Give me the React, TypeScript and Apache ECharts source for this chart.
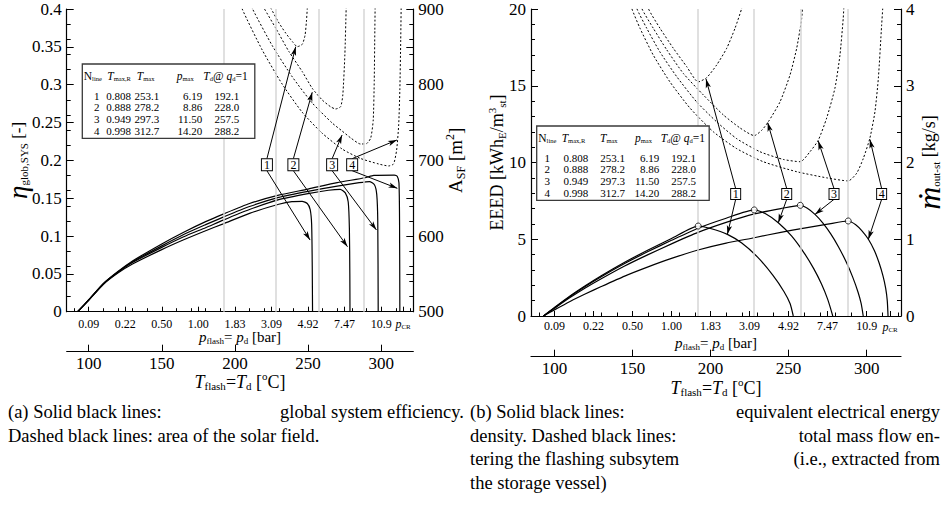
import React, { useEffect, useRef } from "react";
import * as echarts from "echarts";

const FONT = "Liberation Serif";
const BLK = "#000";

// temperature range of both plots (°C)
const T_MIN = 85;
const T_MAX = 322;

// p_flash tick positions (on the temperature scale) and labels
const pTickT = [100, 125, 150, 175, 200, 225, 250, 275, 300, 315];
const pTickLabels = ["0.09", "0.22", "0.50", "1.00", "1.83", "3.09", "4.92", "7.47", "10.9", "pCR"];
const tMajorTicks = [100, 150, 200, 250, 300];
const tMinorTicks = [90, 110, 120, 130, 140, 160, 170, 180, 190, 210, 220, 230, 240, 260, 270, 280, 290, 310, 320];

// table
const lineIds = ["1", "2", "3", "4"];
const tableTmaxR = ["0.808", "0.888", "0.949", "0.998"];
const tableTmax = ["253.1", "278.2", "297.3", "312.7"];
const tablePmax = ["6.19", "8.86", "11.50", "14.20"];
const tableTd = ["192.1", "228.0", "257.5", "288.2"];
const TdValues = [192.1, 228.0, 257.5, 288.2];

// (a) global system efficiency (solid)
const etaT1 = [92.5, 100, 110, 120, 130, 150, 165, 180, 192, 210, 230, 239, 246, 249.5, 251.5, 252.5, 252.9, 253.1];
const eta1 = [0, 0.015, 0.036, 0.051, 0.063, 0.082, 0.095, 0.107, 0.116, 0.13, 0.142, 0.1455, 0.1458, 0.143, 0.135, 0.115, 0.06, 0];
const etaT2 = [92.5, 100, 110, 120, 130, 150, 165, 180, 192, 210, 230, 250, 264, 272, 275.5, 277.5, 278.3, 278.6, 278.7];
const eta2 = [0, 0.0155, 0.0365, 0.052, 0.065, 0.085, 0.099, 0.111, 0.121, 0.135, 0.148, 0.156, 0.1605, 0.1617, 0.157, 0.145, 0.11, 0.05, 0];
const etaT3 = [92.5, 100, 110, 120, 130, 150, 165, 180, 192, 210, 230, 250, 270, 285, 292, 295.5, 297, 297.7, 298];
const eta3 = [0, 0.0155, 0.037, 0.0525, 0.066, 0.087, 0.102, 0.115, 0.125, 0.139, 0.151, 0.159, 0.166, 0.1705, 0.172, 0.1675, 0.155, 0.12, 0];
const etaT4 = [92.5, 100, 110, 120, 130, 150, 165, 180, 192, 210, 230, 250, 270, 289, 295, 309, 311, 312.2, 312.6, 312.8];
const eta4 = [0, 0.0155, 0.037, 0.053, 0.067, 0.0895, 0.105, 0.119, 0.129, 0.143, 0.154, 0.162, 0.1705, 0.177, 0.1802, 0.1806, 0.179, 0.17, 0.12, 0];

// (a) solar field area (dashed, m2)
const aT1 = [219, 224.6, 229.7, 234.8, 239.3, 242.7, 246.1, 248, 248.9, 249.5, 249.9];
const aSF1 = [920, 901, 883, 868, 857, 850.2, 853.4, 865.6, 883.2, 901, 925];
const aT2 = [215, 220, 228, 237, 246.1, 252.9, 259.7, 265.4, 268.8, 272.3, 273.8, 275.2, 276.1, 276.5];
const aSF2 = [918, 900.9, 874.5, 843.6, 817.2, 795.2, 779.8, 770.9, 767.9, 770.9, 786.4, 839.2, 901, 930];
const aT3 = [208.5, 212.1, 225.7, 239.3, 252.9, 266.5, 273.3, 279.3, 285.9, 290.2, 292.9, 294.6, 295.3, 295.7, 296];
const aSF3 = [918.5, 900, 851.1, 810.2, 775.8, 749.4, 738.8, 729.5, 721.6, 722.3, 729.5, 753.3, 806.2, 872.3, 918.5];
const aT4 = [203, 205, 218.7, 232.3, 245.9, 259.5, 273.3, 285.9, 298.3, 305.1, 308.5, 310.6, 312, 312.8, 313.4, 313.8];
const aSF4 = [915.8, 900, 845.8, 800.9, 763.9, 736.2, 715, 702.5, 695.2, 692.6, 695.2, 713.7, 746.7, 793, 859.1, 918.5];

// (b) EEED (solid, kWh_E/m3_st)
const eT1 = [93, 100, 110, 120, 130, 145, 160, 175, 192.1, 200, 210.8, 220, 230, 240, 247, 251, 253];
const eed1 = [0, 0.55, 1.3, 1.98, 2.62, 3.5, 4.3, 5.05, 5.86, 5.7, 5.32, 4.75, 3.85, 2.65, 1.6, 0.8, 0];
const eT2 = [93, 100, 110, 120, 130, 145, 160, 175, 192, 210, 228, 235, 243.4, 252, 260, 266, 271, 275, 278.3];
const eed2 = [0, 0.53, 1.27, 1.94, 2.56, 3.42, 4.2, 4.93, 5.72, 6.37, 6.91, 6.68, 6.08, 5.2, 4.1, 3.1, 2.1, 1.1, 0];
const eT3 = [93, 100, 110, 120, 130, 145, 160, 175, 192, 210, 228, 245, 257.5, 262, 266.9, 272, 277, 282, 287, 291, 294.5, 296.5, 297.8];
const eed3 = [0, 0.5, 1.2, 1.84, 2.43, 3.26, 4.0, 4.7, 5.45, 6.1, 6.65, 7.0, 7.21, 7.02, 6.62, 6.05, 5.35, 4.5, 3.5, 2.55, 1.55, 0.8, 0];
const eT4 = [93, 100, 110, 120, 130, 145, 160, 175, 192, 210, 228, 245, 260, 275, 288.2, 293, 297, 301.1, 305, 308, 310.5, 312.2, 313.2, 313.7];
const eed4 = [0, 0.4, 0.95, 1.45, 1.92, 2.6, 3.2, 3.75, 4.3, 4.75, 5.1, 5.45, 5.73, 5.98, 6.19, 5.95, 5.55, 5.0, 4.25, 3.45, 2.6, 1.8, 1.0, 0];
const peakE = [5.86, 6.91, 7.21, 6.19];

// (b) mass flow out of storage (dashed, kg/s)
const mT1 = [157, 160.1, 167.6, 176.1, 184.7, 192.1, 197.5, 203.9, 210.4, 215.7, 220, 221.5];
const m1 = [4.3, 4.01, 3.75, 3.49, 3.25, 3.05, 3.105, 3.27, 3.49, 3.75, 4.01, 4.15];
const mT2 = [152, 155.9, 163.3, 171.9, 182.6, 195.4, 208.2, 218.9, 228, 232.8, 237, 244.5, 250.9, 255.2, 258.4, 259.2];
const m2 = [4.3, 4.01, 3.75, 3.47, 3.16, 2.88, 2.62, 2.45, 2.35, 2.42, 2.53, 2.79, 3.14, 3.49, 3.88, 4.15];
const mT3 = [148.5, 152.7, 159.1, 167.6, 178.3, 191.1, 203.9, 216.8, 231.7, 246.6, 257.5, 263.7, 269, 274.4, 279.7, 282.9, 285, 285.6];
const m3 = [4.3, 4.01, 3.75, 3.44, 3.12, 2.79, 2.53, 2.31, 2.14, 2.04, 2.01, 2.14, 2.29, 2.58, 2.97, 3.4, 3.88, 4.1];
const mT4 = [145.5, 149.5, 154.8, 163.3, 174, 186.8, 201.8, 216.8, 233.8, 255.2, 274.4, 288.2, 293.6, 297.8, 302.1, 305.3, 307.5, 309.6, 310.3, 310.6];
const m4 = [4.3, 4.01, 3.75, 3.4, 3.05, 2.71, 2.4, 2.18, 2.01, 1.88, 1.8, 1.76, 1.86, 2.05, 2.32, 2.66, 3.1, 3.79, 4.01, 4.15];

// annotation anchors (data coordinates)
const boxTLeft = [221.9, 240, 266.5, 280.2];
const boxEtaTop = 0.2022;
const boxEtaMid = 0.1943;
const boxEtaBottom = 0.1863;
const arrowUpLeft = [[241.6, 0.3502], [252.9, 0.29], [273.3, 0.2335], [310.8, 0.2269]];
const arrowDownLeft = [[251.4, 0.0947], [277, 0.0859], [296.8, 0.108], [311.1, 0.163]];
const boxTRight = [216.1, 248.8, 279.1, 309.6];
const boxETop = 8.3;
const boxEMid = 7.95;
const boxEBottom = 7.6;
const arrowUpRight = [[197.1, 15.44], [236.6, 12.6], [269, 11.4], [302.1, 11.5]];
const arrowDownRight = [[210.8, 5.32], [243.4, 6.08], [266.9, 6.62], [301.1, 5.0]];

// captions
const captionA = [["(a) Solid black lines:", "global system efficiency."], ["Dashed black lines: area of the solar field."]];
const captionB = [
  ["(b) Solid black lines:", "equivalent electrical energy"],
  ["density. Dashed black lines:", "total mass flow en-"],
  ["tering the flashing subsytem", "(i.e., extracted from"],
  ["the storage vessel)"],
];

const richBase = (size: number) => ({
  t: { fontSize: size, fontFamily: FONT, color: BLK },
  i: { fontSize: size, fontFamily: FONT, fontStyle: "italic", color: BLK },
  s: { fontSize: Math.round(size * 0.62), fontFamily: FONT, color: BLK, padding: [Math.round(size * 0.5), 0, 0, 0] },
  u: { fontSize: Math.round(size * 0.62), fontFamily: FONT, color: BLK, padding: [0, 0, Math.round(size * 0.6), 0] },
});

const pFormatter = (v: number) => {
  const i = pTickT.findIndex((t) => Math.abs(t - v) < 1e-6);
  if (i < 0) return "";
  const l = pTickLabels[i];
  return l === "pCR" ? "{i|p}{s|CR}" : "{t|" + l + "}";
};

const axisLine = { show: true, onZero: false, lineStyle: { color: BLK, width: 1.2 } };

const pAxis = (gridIndex: number, nameGap: number, margin: number) => ({
  type: "value", gridIndex, min: T_MIN, max: T_MAX, position: "bottom",
  axisLine,
  axisTick: { show: true, inside: true, length: 5, customValues: pTickT, lineStyle: { color: BLK } },
  axisLabel: { show: true, customValues: pTickT, formatter: pFormatter, margin, rich: richBase(12) },
  splitLine: { show: false },
  name: "{i|p}{s|flash}{t|= }{i|p}{s|d}{t| [bar]}", nameLocation: "middle", nameGap, nameMoveOverlap: false,
  nameTextStyle: { rich: richBase(15) },
});
const tAxis = (gridIndex: number, offset: number, nameGap: number) => ({
  type: "value", gridIndex, min: T_MIN, max: T_MAX, position: "bottom", offset,
  axisLine,
  axisTick: { show: true, inside: true, length: 7, customValues: tMajorTicks, lineStyle: { color: BLK } },
  axisLabel: { show: true, customValues: tMajorTicks, fontSize: 17, fontFamily: FONT, color: BLK, margin: 3 },
  splitLine: { show: false },
  name: "{i|T}{s|flash}{t|=}{i|T}{s|d}{t| [}{u|o}{t|C]}", nameLocation: "middle", nameGap, nameMoveOverlap: false,
  nameTextStyle: { rich: richBase(18) },
});
const tMinorAxis = (gridIndex: number, offset: number) => ({
  type: "value", gridIndex, min: T_MIN, max: T_MAX, position: "bottom", offset,
  axisLine: { show: false },
  axisTick: { show: true, inside: true, length: 3.5, customValues: tMinorTicks, lineStyle: { color: BLK } },
  axisLabel: { show: false }, splitLine: { show: false },
});

const yLabel = { fontSize: 17, fontFamily: FONT, color: BLK, margin: 5 };

const pairs = (xs: number[], ys: number[]) => xs.map((x, i) => [x, ys[i]]);
const curve = (xs: number[], ys: number[], xi: number, yi: number, dashed: boolean) => ({
  type: "line", xAxisIndex: xi, yAxisIndex: yi, data: pairs(xs, ys),
  showSymbol: false, symbol: "none", smooth: 0.2, silent: true, z: 3,
  lineStyle: { color: BLK, width: dashed ? 1 : 1.2, type: dashed ? [2, 2] : "solid" },
});

const markerSeries = (xi: number, yi: number, boxT: number[], mid: number, top: number, bottom: number, up: number[][], down: number[][], boxW: number, boxH: number) => ({
  type: "line", xAxisIndex: xi, yAxisIndex: yi, data: [], silent: true, z: 5,
  markLine: {
    silent: true, symbol: ["none", "arrow"], symbolSize: 8, label: { show: false },
    lineStyle: { color: BLK, width: 1, type: "solid" },
    data: [
      ...boxT.map((t, i) => [{ coord: [t, top] }, { coord: up[i], symbolSize: [4, 9] }]),
      ...boxT.map((t, i) => [{ coord: [t, bottom] }, { coord: down[i], symbolSize: [4, 9] }]),
    ],
  },
  markPoint: {
    silent: true, symbol: "rect", symbolSize: [boxW, boxH],
    itemStyle: { color: "#fff", borderColor: BLK, borderWidth: 1 },
    label: { show: true, position: "inside", color: BLK, fontSize: 12, fontFamily: FONT, formatter: "{c}" },
    data: boxT.map((t, i) => ({ coord: [t, mid], value: lineIds[i] })),
  },
});

const gridLines = (xi: number, yi: number) => ({
  type: "line", xAxisIndex: xi, yAxisIndex: yi, data: [], silent: true, z: 1,
  markLine: {
    silent: true, symbol: ["none", "none"], label: { show: false },
    lineStyle: { color: "#d6d6d6", width: 1.5, type: "solid" },
    data: TdValues.map((v) => ({ xAxis: v })),
  },
});

const tableGraphic = (x0: number, y0: number, headX: number[], cellR: number[]) => {
  const els: any[] = [];
  els.push({ type: "rect", z: 10, shape: { x: x0, y: y0, width: 172.5, height: 74.3 }, style: { fill: "#fff", stroke: "#3a3a3a", lineWidth: 1.3 } });
  const tr = {
    t: { fontSize: 11.5, fontFamily: FONT, fill: BLK },
    i: { fontSize: 11.5, fontFamily: FONT, fontStyle: "italic", fill: BLK },
    s: { fontSize: 6.5, fontFamily: FONT, fill: BLK, padding: [5, 0, 0, 0] },
  };
  const heads = ["{t|N}{s|line}", "{i|T}{s|max,R}", "{i|T}{s|max}", "{i|p}{s|max}", "{i|T}{s|d}{t|@ }{i|q}{s|d}{t|=1}"];
  heads.forEach((h, k) => {
    els.push({ type: "text", z: 11, x: x0 + headX[k], y: y0 + 12, style: { text: h, rich: tr, fontSize: 11.5, fontFamily: FONT, fill: BLK, align: "left", verticalAlign: "middle" } });
  });
  lineIds.forEach((id, r) => {
    const cells = [id, tableTmaxR[r], tableTmax[r], tablePmax[r], tableTd[r]];
    cells.forEach((c, k) => {
      els.push({ type: "text", z: 11, x: x0 + cellR[k], y: y0 + 31.7 + r * 11.7, style: { text: c, fontSize: 11, fontFamily: FONT, fill: BLK, align: "right", verticalAlign: "middle" } });
    });
  });
  return els;
};

const captionGraphic = (lines: string[][], x0: number, x1: number, y0: number) => {
  const els: any[] = [];
  lines.forEach((parts, r) => {
    const y = y0 + r * 23.7;
    els.push({ type: "text", z: 11, x: x0, y, style: { text: parts[0], fontSize: 18.5, fontFamily: FONT, fill: BLK, align: "left", verticalAlign: "middle" } });
    if (parts[1]) {
      els.push({ type: "text", z: 11, x: x1, y, style: { text: parts[1], fontSize: 18.5, fontFamily: FONT, fill: BLK, align: "right", verticalAlign: "middle" } });
    }
  });
  return els;
};

function buildOption() {
  return {
    animation: false,
    backgroundColor: "#fff",
    textStyle: { fontFamily: FONT, color: BLK },
    grid: [
      { left: 66.7, top: 9, width: 346.6, height: 302.7, containLabel: false, outerBoundsMode: "none" },
      { left: 531, top: 9, width: 370, height: 307, containLabel: false, outerBoundsMode: "none" },
    ],
    xAxis: [
      pAxis(0, 17, 6),
      tAxis(0, 40, 19),
      tMinorAxis(0, 40),
      pAxis(1, 18, 4),
      tAxis(1, 40.7, 20),
      tMinorAxis(1, 40.7),
    ],
    yAxis: [
      {
        type: "value", gridIndex: 0, position: "left", min: 0, max: 0.4, interval: 0.05,
        axisLine, axisTick: { show: true, inside: true, length: 7, lineStyle: { color: BLK } },
        axisLabel: yLabel, splitLine: { show: false },
        name: "{g|η}{s|glob,SYS}{t| [-]}", nameLocation: "middle", nameGap: 35, nameMoveOverlap: false,
        nameTextStyle: { rich: { ...richBase(17), g: { fontSize: 27, fontFamily: FONT, fontStyle: "italic", color: BLK }, s: { fontSize: 11, fontFamily: FONT, color: BLK, padding: [12, 0, 0, 0] } } },
      },
      {
        type: "value", gridIndex: 0, position: "right", min: 500, max: 900, interval: 50,
        axisLine, axisTick: { show: true, inside: true, length: 7, lineStyle: { color: BLK } },
        axisLabel: { ...yLabel, formatter: (v: number) => (v % 100 === 0 ? String(v) : "") }, splitLine: { show: false },
        name: "{t|A}{s|SF}{t| [m}{u|2}{t|]}", nameLocation: "middle", nameGap: 31, nameMoveOverlap: false,
        nameTextStyle: { rich: richBase(19) },
      },
      {
        type: "value", gridIndex: 0, position: "left", min: 0, max: 0.4, interval: 0.02,
        axisLine: { show: false }, axisTick: { show: true, inside: true, length: 4, lineStyle: { color: BLK } },
        axisLabel: { show: false }, splitLine: { show: false },
      },
      {
        type: "value", gridIndex: 0, position: "right", min: 500, max: 900, interval: 20,
        axisLine: { show: false }, axisTick: { show: true, inside: true, length: 4, lineStyle: { color: BLK } },
        axisLabel: { show: false }, splitLine: { show: false },
      },
      {
        type: "value", gridIndex: 1, position: "left", min: 0, max: 20, interval: 5,
        axisLine, axisTick: { show: true, inside: true, length: 7, lineStyle: { color: BLK } },
        minorTick: { show: true, splitNumber: 5, length: 4, lineStyle: { color: BLK } },
        axisLabel: yLabel, splitLine: { show: false },
        name: "{t|EEED [kWh}{s|E}{t|/m}{u|3}{s|st}{t|]}", nameLocation: "middle", nameGap: 23, nameMoveOverlap: false,
        nameTextStyle: { rich: richBase(18) },
      },
      {
        type: "value", gridIndex: 1, position: "right", min: 0, max: 4, interval: 1,
        axisLine, axisTick: { show: true, inside: true, length: 7, lineStyle: { color: BLK } },
        minorTick: { show: true, splitNumber: 5, length: 4, lineStyle: { color: BLK } },
        axisLabel: yLabel, splitLine: { show: false },
        name: "{g|ṁ}{s|out-st}{t| [kg/s]}", nameLocation: "middle", nameGap: 12, nameMoveOverlap: false,
        nameTextStyle: { rich: { ...richBase(18), g: { fontSize: 32, fontFamily: FONT, fontStyle: "italic", color: BLK }, s: { fontSize: 11, fontFamily: FONT, color: BLK, padding: [14, 0, 0, 0] } } },
      },
    ],
    series: [
      gridLines(0, 0),
      gridLines(3, 4),
      curve(etaT1, eta1, 0, 0, false),
      curve(etaT2, eta2, 0, 0, false),
      curve(etaT3, eta3, 0, 0, false),
      curve(etaT4, eta4, 0, 0, false),
      curve(aT1, aSF1, 0, 1, true),
      curve(aT2, aSF2, 0, 1, true),
      curve(aT3, aSF3, 0, 1, true),
      curve(aT4, aSF4, 0, 1, true),
      curve(eT1, eed1, 3, 4, false),
      curve(eT2, eed2, 3, 4, false),
      curve(eT3, eed3, 3, 4, false),
      curve(eT4, eed4, 3, 4, false),
      curve(mT1, m1, 3, 5, true),
      curve(mT2, m2, 3, 5, true),
      curve(mT3, m3, 3, 5, true),
      curve(mT4, m4, 3, 5, true),
      {
        type: "scatter", xAxisIndex: 3, yAxisIndex: 4, silent: true, z: 6,
        data: pairs(TdValues, peakE), symbol: "circle", symbolSize: 6,
        itemStyle: { color: "#fff", borderColor: BLK, borderWidth: 1 },
      },
      markerSeries(0, 0, boxTLeft, boxEtaMid, boxEtaTop, boxEtaBottom, arrowUpLeft, arrowDownLeft, 11, 12),
      markerSeries(3, 4, boxTRight, boxEMid, boxETop, boxEBottom, arrowUpRight, arrowDownRight, 10, 11),
    ],
    graphic: {
      elements: [
        ...tableGraphic(82.3, 64, [1.5, 25, 54.5, 94.5, 121], [17.2, 48.7, 77, 120, 157]),
        ...tableGraphic(536.7, 126, [1.6, 25, 63.3, 98.3, 124], [13.3, 51.6, 88.3, 122.6, 159.3]),
        ...captionGraphic(captionA, 8, 464, 412),
        ...captionGraphic(captionB, 470, 940, 412),
      ],
    },
  };
}

export default function App() {
  const ref = useRef<HTMLDivElement>(null);
  useEffect(() => {
    const chart = echarts.init(ref.current as HTMLDivElement, null, { renderer: "svg" });
    chart.setOption(buildOption() as any);
    return () => chart.dispose();
  }, []);
  return (
    <div
      ref={ref}
      style={{ position: "fixed", left: 0, top: 0, width: 947, height: 527, background: "#fff" }}
    />
  );
}
